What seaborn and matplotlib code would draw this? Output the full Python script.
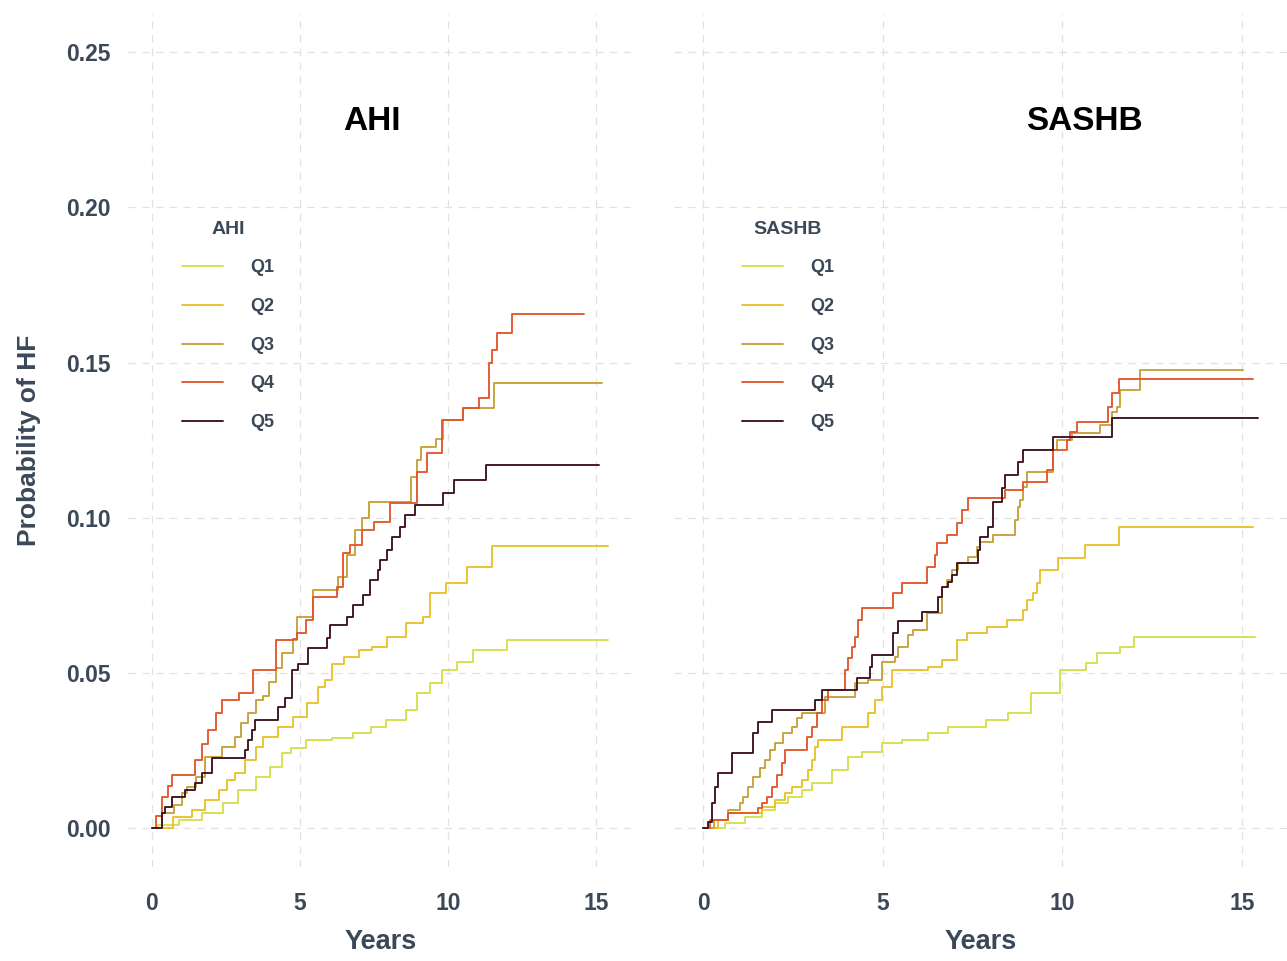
import pandas as pd
import matplotlib.pyplot as plt
import seaborn as sns

# Cumulative probability of HF by quintile
quintiles = ['Q1', 'Q2', 'Q3', 'Q4', 'Q5']
colors = ['#d5e04c', '#e8c22a', '#c4a23a', '#e2582c', '#3d1320']

# AHI panel
ahi_q1_t = [0, 0.2, 0.9, 1.7, 2.4, 2.9, 3.5, 4.0, 4.4, 4.7, 5.2, 6.1, 6.8, 7.4, 7.9, 8.6, 8.95, 9.4, 9.8, 10.3, 10.85, 12.0, 15.4]
ahi_q1_y = [0, 0.001, 0.0026, 0.0048, 0.0081, 0.0122, 0.0164, 0.0197, 0.0242, 0.0258, 0.0284, 0.029, 0.0306, 0.0325, 0.0348, 0.038, 0.0435, 0.0467, 0.0509, 0.0535, 0.0573, 0.0606, 0.0606]
ahi_q2_t = [0, 0.7, 1.35, 1.8, 2.25, 2.55, 2.8, 3.15, 3.5, 3.75, 4.25, 4.75, 5.25, 5.6, 5.85, 6.1, 6.5, 7.0, 7.45, 7.95, 8.6, 9.15, 9.4, 9.95, 10.65, 11.5, 15.4]
ahi_q2_y = [0, 0.0035, 0.0058, 0.009, 0.0122, 0.0155, 0.0177, 0.0219, 0.0261, 0.0293, 0.0325, 0.0357, 0.0403, 0.0454, 0.0477, 0.053, 0.055, 0.0573, 0.0583, 0.0615, 0.066, 0.068, 0.0757, 0.079, 0.084, 0.091, 0.091]
ahi_q3_t = [0, 0.35, 0.75, 1.0, 1.2, 1.5, 1.8, 2.35, 2.8, 3.0, 3.25, 3.5, 3.75, 3.95, 4.2, 4.4, 4.75, 4.9, 5.45, 6.3, 6.6, 6.85, 7.1, 7.35, 8.75, 8.95, 9.1, 9.6, 9.85, 10.5, 11.55, 15.2]
ahi_q3_y = [0, 0.0048, 0.0074, 0.0113, 0.0132, 0.0164, 0.0228, 0.026, 0.0293, 0.0338, 0.037, 0.0412, 0.0425, 0.047, 0.0515, 0.0564, 0.0606, 0.068, 0.0767, 0.081, 0.088, 0.096, 0.100, 0.105, 0.113, 0.1185, 0.1227, 0.1253, 0.1314, 0.1353, 0.1434, 0.1434]
ahi_q4_t = [0, 0.15, 0.35, 0.55, 0.68, 1.45, 1.7, 1.9, 2.15, 2.35, 2.95, 3.4, 4.0, 4.2, 4.75, 4.9, 5.2, 5.45, 6.25, 6.45, 6.7, 7.1, 7.5, 8.05, 8.95, 9.3, 9.8, 10.5, 11.05, 11.4, 11.5, 11.65, 12.15, 14.6]
ahi_q4_y = [0, 0.004, 0.01, 0.0135, 0.017, 0.022, 0.027, 0.0316, 0.037, 0.0412, 0.0435, 0.0509, 0.051, 0.0606, 0.061, 0.0628, 0.067, 0.0744, 0.0776, 0.0886, 0.0912, 0.096, 0.0986, 0.1047, 0.1147, 0.1208, 0.1314, 0.1353, 0.1385, 0.150, 0.154, 0.1595, 0.1656, 0.1656]
ahi_q5_t = [0, 0.34, 0.44, 0.68, 1.1, 1.45, 1.7, 2.03, 3.14, 3.24, 3.38, 3.48, 4.26, 4.5, 4.73, 4.93, 5.27, 5.9, 6.0, 6.59, 6.79, 7.13, 7.36, 7.64, 7.7, 7.94, 8.11, 8.38, 8.55, 8.89, 9.83, 10.2, 11.3, 15.1]
ahi_q5_y = [0, 0.0048, 0.0068, 0.010, 0.0122, 0.0145, 0.0177, 0.0226, 0.0251, 0.0284, 0.0316, 0.0348, 0.039, 0.042, 0.0509, 0.053, 0.058, 0.0612, 0.0654, 0.068, 0.0718, 0.075, 0.080, 0.083, 0.0863, 0.0896, 0.0937, 0.097, 0.1008, 0.104, 0.108, 0.112, 0.117, 0.117]

# SASHB panel
sashb_q1_t = [0, 0.61, 1.17, 1.64, 2.0, 2.37, 2.76, 3.03, 3.59, 4.04, 4.43, 4.98, 5.54, 6.26, 6.82, 7.88, 8.49, 9.13, 9.94, 10.66, 10.97, 11.61, 12.0, 15.36]
sashb_q1_y = [0, 0.0016, 0.0035, 0.0058, 0.008, 0.010, 0.0122, 0.0145, 0.0187, 0.0229, 0.0245, 0.0274, 0.0284, 0.0306, 0.0325, 0.0348, 0.037, 0.0435, 0.0509, 0.0532, 0.0564, 0.0583, 0.0615, 0.0615]
sashb_q2_t = [0, 0.42, 0.7, 1.64, 2.0, 2.28, 2.48, 2.76, 2.92, 3.03, 3.12, 3.2, 3.87, 4.59, 4.79, 4.98, 5.26, 6.26, 6.65, 7.07, 7.35, 7.9, 8.46, 8.91, 9.02, 9.18, 9.3, 9.38, 9.88, 10.63, 11.58, 15.31]
sashb_q2_y = [0, 0.0026, 0.0048, 0.0068, 0.009, 0.0113, 0.0132, 0.0155, 0.0187, 0.0219, 0.0261, 0.0284, 0.0325, 0.037, 0.0412, 0.0454, 0.0509, 0.0519, 0.0541, 0.0606, 0.0628, 0.0648, 0.067, 0.0702, 0.0735, 0.0757, 0.0789, 0.0831, 0.087, 0.0912, 0.097, 0.097]
sashb_q3_t = [0, 0.3, 0.7, 1.03, 1.1, 1.25, 1.39, 1.59, 1.73, 1.87, 2.0, 2.23, 2.48, 2.62, 2.76, 3.39, 4.23, 4.59, 4.98, 5.34, 5.43, 5.71, 5.85, 6.23, 6.65, 6.79, 6.93, 7.1, 7.38, 7.63, 7.71, 8.07, 8.68, 8.77, 8.82, 8.91, 9.02, 9.74, 9.85, 10.27, 11.05, 11.38, 11.52, 11.6, 12.16, 15.03]
sashb_q3_y = [0, 0.0026, 0.0058, 0.008, 0.010, 0.0132, 0.0164, 0.0193, 0.0219, 0.0251, 0.0274, 0.0306, 0.0325, 0.0354, 0.037, 0.0422, 0.0467, 0.0477, 0.0535, 0.055, 0.0583, 0.0621, 0.0638, 0.0693, 0.0776, 0.080, 0.083, 0.0854, 0.0873, 0.0905, 0.0921, 0.0944, 0.0992, 0.1034, 0.1057, 0.110, 0.1147, 0.1218, 0.125, 0.1273, 0.1298, 0.134, 0.1356, 0.141, 0.1476, 0.1476]
sashb_q4_t = [0, 0.19, 0.7, 1.53, 1.64, 1.78, 1.92, 2.06, 2.2, 2.28, 2.89, 3.03, 3.17, 3.31, 3.48, 3.95, 4.04, 4.15, 4.23, 4.31, 4.43, 5.29, 5.54, 6.23, 6.46, 6.51, 6.79, 7.07, 7.21, 7.38, 8.41, 8.91, 9.57, 9.74, 10.13, 10.21, 10.41, 11.27, 11.38, 11.58, 15.31]
sashb_q4_y = [0, 0.0026, 0.0048, 0.0064, 0.008, 0.010, 0.0132, 0.0171, 0.0209, 0.0251, 0.0293, 0.0325, 0.037, 0.0412, 0.0445, 0.0509, 0.0548, 0.0583, 0.0615, 0.067, 0.0709, 0.0757, 0.0789, 0.0841, 0.088, 0.0918, 0.0944, 0.0983, 0.1024, 0.1063, 0.1089, 0.1115, 0.1153, 0.1218, 0.125, 0.1276, 0.1308, 0.1356, 0.1401, 0.1447, 0.1447]
sashb_q5_t = [0, 0.14, 0.25, 0.33, 0.42, 0.81, 1.39, 1.53, 1.92, 3.12, 3.31, 4.29, 4.65, 4.7, 5.29, 5.43, 6.1, 6.54, 6.65, 6.82, 6.93, 7.07, 7.65, 7.71, 7.93, 8.07, 8.32, 8.4, 8.77, 8.91, 9.74, 11.38, 15.45]
sashb_q5_y = [0, 0.002, 0.008, 0.0132, 0.0177, 0.0242, 0.0306, 0.0341, 0.038, 0.0412, 0.0445, 0.0483, 0.0519, 0.0557, 0.0628, 0.0667, 0.0696, 0.0744, 0.0776, 0.0793, 0.0815, 0.0854, 0.0896, 0.0938, 0.097, 0.105, 0.1095, 0.1137, 0.1179, 0.1218, 0.126, 0.1321, 0.1321]

x_ticks = [0, 5, 10, 15]
y_ticks = [0.00, 0.05, 0.10, 0.15, 0.20, 0.25]


def make_df(series):
    rows = []
    for q, (t, y) in zip(quintiles, series):
        rows.append(pd.DataFrame({'Years': t, 'Prob': y, 'Quintile': q}))
    return pd.concat(rows, ignore_index=True)


df_ahi = make_df([(ahi_q1_t, ahi_q1_y), (ahi_q2_t, ahi_q2_y), (ahi_q3_t, ahi_q3_y),
                  (ahi_q4_t, ahi_q4_y), (ahi_q5_t, ahi_q5_y)])
df_sashb = make_df([(sashb_q1_t, sashb_q1_y), (sashb_q2_t, sashb_q2_y), (sashb_q3_t, sashb_q3_y),
                    (sashb_q4_t, sashb_q4_y), (sashb_q5_t, sashb_q5_y)])

sns.set_theme(style='white')
plt.rcParams['font.family'] = ['Liberation Sans', 'DejaVu Sans']

txt_col = '#3b4858'
fig = plt.figure(figsize=(12.87, 9.61), dpi=100)
ax1 = fig.add_axes([0.0997, 0.098, 0.392, 0.888])
ax2 = fig.add_axes([0.5239, 0.098, 0.476, 0.888])

panels = [(ax1, df_ahi, 'AHI', 0.483, 0.106, True),
          (ax2, df_sashb, 'SASHB', 0.67, 0.11, False)]

for ax, df, name, title_x, leg_x, show_y in panels:
    sns.lineplot(data=df, x='Years', y='Prob', hue='Quintile', palette=colors,
                 drawstyle='steps-post', estimator=None, linewidth=1.35, ax=ax)
    ax.set_xlim(-0.8, 16.25)
    ax.set_ylim(-0.0125, 0.2625)
    ax.set_xticks(x_ticks)
    ax.set_yticks(y_ticks)
    ax.set_xticklabels([str(v) for v in x_ticks])
    if show_y:
        ax.set_yticklabels(['%.2f' % v for v in y_ticks])
        ax.set_ylabel('Probability of HF', fontsize=19, fontweight='bold', color=txt_col, labelpad=18)
    else:
        ax.set_yticklabels([])
        ax.set_ylabel('')
    ax.set_xlabel('Years', fontsize=19.5, fontweight='bold', color=txt_col, labelpad=10)
    ax.tick_params(axis='both', length=0, labelsize=16.5, labelcolor=txt_col)
    ax.tick_params(axis='x', pad=18)
    ax.tick_params(axis='y', pad=13)
    for lab in ax.get_xticklabels() + ax.get_yticklabels():
        lab.set_fontweight('bold')
    ax.grid(True, linestyle=(0, (6, 5)), color='#e2e2e2', linewidth=0.9)
    for sp in ax.spines.values():
        sp.set_visible(False)
    ax.text(title_x, 0.873, name, transform=ax.transAxes, ha='center', va='center',
            fontsize=24, fontweight='bold', color='black')
    sns.move_legend(ax, 'upper left', bbox_to_anchor=(leg_x, 0.757), title=name, frameon=False,
                    borderpad=0, borderaxespad=0, handlelength=2.3, handletextpad=1.5,
                    labelspacing=1.2, fontsize=13, title_fontsize=14)
    leg = ax.get_legend()
    leg.get_title().set_fontweight('bold')
    leg.get_title().set_color(txt_col)
    for t in leg.get_texts():
        t.set_fontweight('bold')
        t.set_color(txt_col)

plt.savefig('out.png', dpi=100)
